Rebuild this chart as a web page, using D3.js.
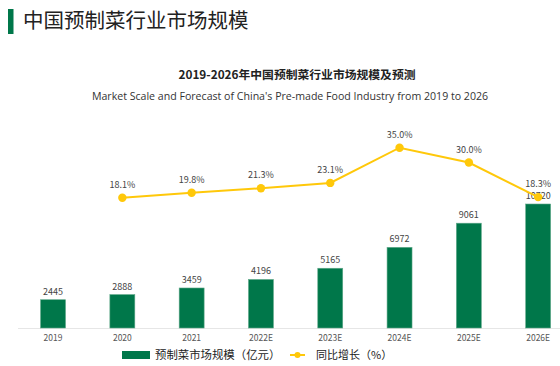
<!DOCTYPE html>
<html><head><meta charset="utf-8">
<script src="https://cdn.jsdelivr.net/npm/d3@7/dist/d3.min.js"></script>
<style>body{margin:0;background:#fff}svg{display:block}</style>
</head><body>
<svg id="c" width="560" height="366"></svg>
<script>
const categories = ["2019","2020","2021","2022E","2023E","2024E","2025E","2026E"];
const marketSize = [2445,2888,3459,4196,5165,6972,9061,10720];
const growthCats = ["2020","2021","2022E","2023E","2024E","2025E","2026E"];
const growthRate = [18.1,19.8,21.3,23.1,35.0,30.0,18.3];

const svg = d3.select("#c");
const font = "'Noto Sans CJK SC','Noto Sans',sans-serif";
const green = "#00774A", yellow = "#FFC80A";

// header
svg.append("rect").attr("x",8).attr("y",9).attr("width",5.5).attr("height",25).attr("fill","#00774A");
svg.append("text").attr("x",23).attr("y",28).attr("font-family",font).attr("font-size",20.5)
  .attr("fill","#222").text("中国预制菜行业市场规模");

svg.append("text").attr("x",297).attr("y",79).attr("text-anchor","middle").attr("font-family",font)
  .attr("font-size",11.8).attr("font-weight","bold").attr("fill","#222").text("2019-2026年中国预制菜行业市场规模及预测");
svg.append("text").attr("x",290).attr("y",100).attr("text-anchor","middle").attr("font-family","'Open Sans',sans-serif")
  .attr("font-size",10.6).attr("fill","#333").text("Market Scale and Forecast of China's Pre-made Food Industry from 2019 to 2026");

const x = d3.scaleBand().domain(categories).range([18.4,572.8]).paddingInner(0.64).paddingOuter(0.32);
const y = d3.scaleLinear().domain([0,10720]).range([328,204]);
const y2 = d3.scaleLinear().domain([0,35]).range([251.3,147.7]);

// baseline
svg.append("line").attr("x1",18).attr("x2",560).attr("y1",328.5).attr("y2",328.5).attr("stroke","#e6e6e6");

// bars
svg.selectAll("rect.bar").data(marketSize).join("rect").attr("class","bar")
  .attr("x",(d,i)=>x(categories[i])).attr("width",x.bandwidth())
  .attr("y",d=>y(d)).attr("height",d=>y(0)-y(d))
  .attr("fill",green).attr("stroke","#5fa889").attr("stroke-width",0.6);

svg.selectAll("text.bl").data(marketSize).join("text").attr("class","bl")
  .attr("x",(d,i)=>x(categories[i])+x.bandwidth()/2).attr("y",d=>y(d)-5)
  .attr("text-anchor","middle").attr("font-family",font).attr("font-size",9).attr("fill","#444").text(d=>d);

// x axis labels
const xAxis = d3.axisBottom(x).tickSize(0).tickPadding(6);
const gx = svg.append("g").attr("transform","translate(0,329)").call(xAxis);
gx.select(".domain").remove();
gx.selectAll("text").attr("font-family",font).attr("font-size",8.5).attr("fill","#555");

// line
const cx = c => x(c)+x.bandwidth()/2;
const line = d3.line().x((d,i)=>cx(growthCats[i])).y(d=>y2(d));
svg.append("path").datum(growthRate).attr("d",line).attr("fill","none").attr("stroke",yellow).attr("stroke-width",2);
svg.selectAll("circle.pt").data(growthRate).join("circle").attr("class","pt")
  .attr("cx",(d,i)=>cx(growthCats[i])).attr("cy",d=>y2(d)).attr("r",4.2).attr("fill",yellow);
svg.selectAll("text.pl").data(growthRate).join("text").attr("class","pl")
  .attr("x",(d,i)=>cx(growthCats[i])).attr("y",d=>y2(d)-10)
  .attr("text-anchor","middle").attr("font-family",font).attr("font-size",9).attr("fill","#444").text(d=>d.toFixed(1)+"%");

// legend
svg.append("rect").attr("x",122).attr("y",351).attr("width",28).attr("height",8).attr("fill",green);
svg.append("text").attr("x",155).attr("y",359).attr("font-family",font).attr("font-size",11.4).attr("fill","#222").text("预制菜市场规模（亿元）");
svg.append("line").attr("x1",290).attr("x2",305).attr("y1",355).attr("y2",355).attr("stroke",yellow).attr("stroke-width",2);
svg.append("circle").attr("cx",297.5).attr("cy",355).attr("r",3).attr("fill",yellow);
svg.append("text").attr("x",316).attr("y",359).attr("font-family",font).attr("font-size",11).attr("fill","#222").text("同比增长（%）");
</script>
</body></html>
